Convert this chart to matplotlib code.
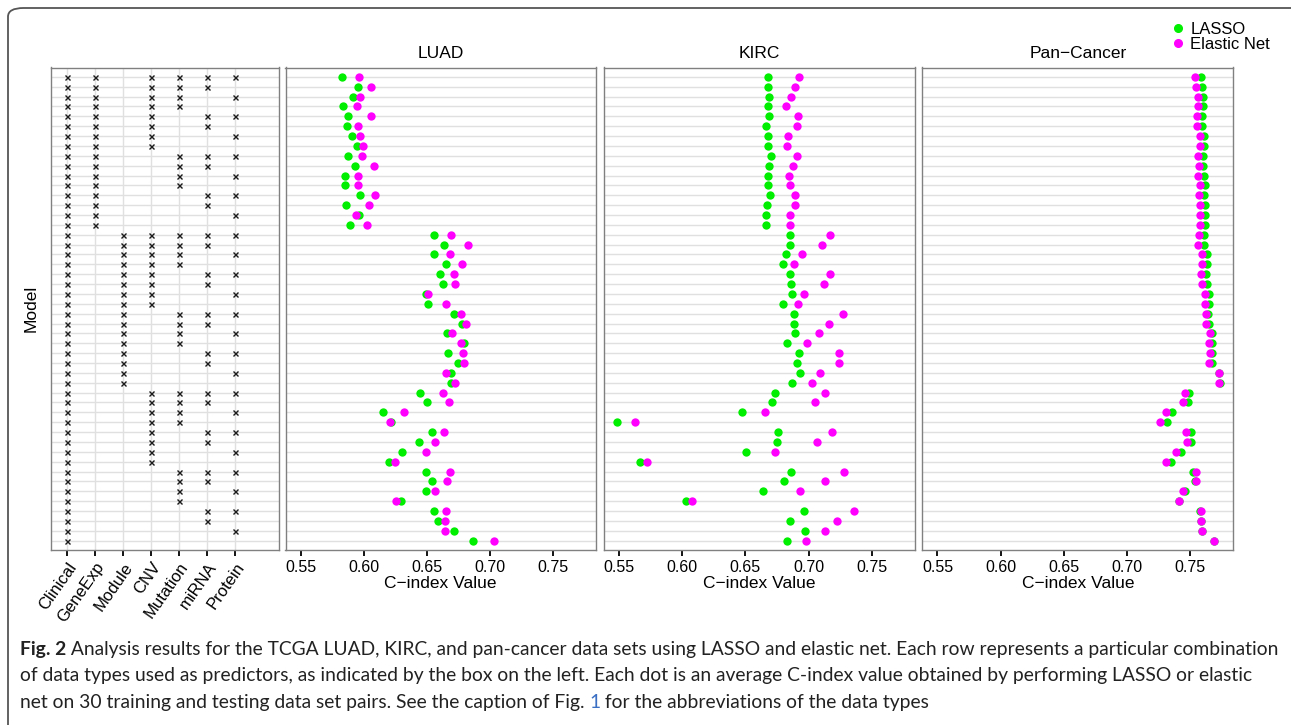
import matplotlib
matplotlib.use("Agg")
import matplotlib.pyplot as plt
import numpy as np
from matplotlib.lines import Line2D
from matplotlib.patches import FancyBboxPatch

# --- Data ---
DATA_TYPES = ["Clinical", "GeneExp", "Module", "CNV", "Mutation", "miRNA", "Protein"]

# one string per model row (top to bottom), 1 = data type used
MODEL_ROWS = [
    "1101111", "1101110", "1101101", "1101100", "1101011", "1101010", "1101001", "1101000",
    "1100111", "1100110", "1100101", "1100100", "1100011", "1100010", "1100001", "1100000",
    "1011111", "1011110", "1011101", "1011100", "1011011", "1011010", "1011001", "1011000",
    "1010111", "1010110", "1010101", "1010100", "1010011", "1010010", "1010001", "1010000",
    "1001111", "1001110", "1001101", "1001100", "1001011", "1001010", "1001001", "1001000",
    "1000111", "1000110", "1000101", "1000100", "1000011", "1000010", "1000001", "1000000",
]

LUAD_LASSO = [
    0.5825, 0.5956, 0.5912, 0.5832, 0.5877, 0.5864, 0.5904, 0.5949,
    0.5872, 0.5933, 0.5854, 0.5854, 0.5967, 0.5859, 0.5959, 0.5888,
    0.6558, 0.6637, 0.6558, 0.6650, 0.6603, 0.6629, 0.6490, 0.6508,
    0.6714, 0.6777, 0.6661, 0.6796, 0.6666, 0.6748, 0.6693, 0.6695,
    0.6442, 0.6500, 0.6154, 0.6212, 0.6540, 0.6434, 0.6305, 0.6197,
    0.6495, 0.6540, 0.6492, 0.6292, 0.6555, 0.6590, 0.6716, 0.6864,
]
LUAD_ENET = [
    0.5959, 0.6057, 0.5970, 0.5949, 0.6057, 0.5956, 0.5970, 0.5996,
    0.5985, 0.6080, 0.5954, 0.5954, 0.6088, 0.6044, 0.5938, 0.6028,
    0.6695, 0.6822, 0.6687, 0.6782, 0.6716, 0.6724, 0.6511, 0.6648,
    0.6769, 0.6811, 0.6698, 0.6767, 0.6788, 0.6798, 0.6648, 0.6724,
    0.6629, 0.6672, 0.6315, 0.6207, 0.6632, 0.6563, 0.6495, 0.6249,
    0.6682, 0.6661, 0.6566, 0.6257, 0.6648, 0.6645, 0.6640, 0.7030,
]

KIRC_LASSO = [
    0.6682, 0.6682, 0.6685, 0.6679, 0.6685, 0.6666, 0.6682, 0.6679,
    0.6700, 0.6690, 0.6682, 0.6682, 0.6693, 0.6674, 0.6666, 0.6666,
    0.6856, 0.6856, 0.6817, 0.6793, 0.6856, 0.6859, 0.6869, 0.6793,
    0.6885, 0.6883, 0.6888, 0.6832, 0.6920, 0.6906, 0.6930, 0.6867,
    0.6732, 0.6711, 0.6471, 0.5484, 0.6761, 0.6751, 0.6503, 0.5666,
    0.6859, 0.6806, 0.6640, 0.6033, 0.6959, 0.6851, 0.6970, 0.6827,
]
KIRC_ENET = [
    0.6920, 0.6891, 0.6861, 0.6822, 0.6917, 0.6909, 0.6840, 0.6832,
    0.6906, 0.6875, 0.6846, 0.6851, 0.6893, 0.6893, 0.6851, 0.6851,
    0.7168, 0.7104, 0.6946, 0.6885, 0.7168, 0.7123, 0.6962, 0.6914,
    0.7273, 0.7157, 0.7081, 0.6983, 0.7241, 0.7239, 0.7086, 0.7028,
    0.7125, 0.7046, 0.6658, 0.5624, 0.7181, 0.7067, 0.6732, 0.5719,
    0.7278, 0.7128, 0.6930, 0.6080, 0.7355, 0.7220, 0.7131, 0.6975,
]

PAN_LASSO = [
    0.7582, 0.7592, 0.7603, 0.7603, 0.7592, 0.7592, 0.7608, 0.7608,
    0.7603, 0.7603, 0.7606, 0.7616, 0.7611, 0.7616, 0.7616, 0.7613,
    0.7606, 0.7606, 0.7629, 0.7629, 0.7621, 0.7635, 0.7650, 0.7650,
    0.7642, 0.7645, 0.7672, 0.7669, 0.7672, 0.7669, 0.7730, 0.7732,
    0.7487, 0.7482, 0.7355, 0.7313, 0.7505, 0.7503, 0.7429, 0.7350,
    0.7521, 0.7540, 0.7455, 0.7408, 0.7574, 0.7582, 0.7590, 0.7684,
]
PAN_ENET = [
    0.7540, 0.7548, 0.7563, 0.7561, 0.7550, 0.7550, 0.7574, 0.7574,
    0.7561, 0.7566, 0.7563, 0.7579, 0.7571, 0.7577, 0.7579, 0.7579,
    0.7571, 0.7563, 0.7590, 0.7595, 0.7587, 0.7590, 0.7613, 0.7619,
    0.7621, 0.7624, 0.7653, 0.7650, 0.7656, 0.7650, 0.7724, 0.7724,
    0.7458, 0.7442, 0.7305, 0.7263, 0.7468, 0.7474, 0.7384, 0.7307,
    0.7542, 0.7542, 0.7442, 0.7408, 0.7587, 0.7582, 0.7592, 0.7684,
]

PANEL_TITLES = ["LUAD", "KIRC", "Pan\u2212Cancer"]
PANEL_DATA = [(LUAD_LASSO, LUAD_ENET), (KIRC_LASSO, KIRC_ENET), (PAN_LASSO, PAN_ENET)]
X_TICKS = [0.55, 0.60, 0.65, 0.70, 0.75]

CAPTION_LINES = [
    [("Fig. 2", "bold", "#222222"),
     (" Analysis results for the TCGA LUAD, KIRC, and pan-cancer data sets using LASSO and elastic net. "
      "Each row represents a particular combination", "normal", "#222222")],
    [("of data types used as predictors, as indicated by the box on the left. Each dot is an average "
      "C-index value obtained by performing LASSO or elastic", "normal", "#222222")],
    [("net on 30 training and testing data set pairs. See the caption of Fig. ", "normal", "#222222"),
     ("1", "normal", "#3a6fc4"),
     (" for the abbreviations of the data types", "normal", "#222222")],
]

# --- Style ---
GREEN = "#00ee00"
MAGENTA = "#ff00ff"
GRID = "#e0e0e0"
FRAME = "#808080"
W, H = 1291, 725
plt.rcParams["font.family"] = ["Liberation Sans", "DejaVu Sans"]

fig = plt.figure(figsize=(W / 100, H / 100), dpi=100)


def px_axes(left, top, right, bottom):
    return fig.add_axes([left / W, 1 - bottom / H, (right - left) / W, (bottom - top) / H])


def style_frame(ax):
    for sp in ax.spines.values():
        sp.set_color(FRAME)
        sp.set_linewidth(1.0)
    ax.set_axisbelow(True)


rows = np.arange(1, len(MODEL_ROWS) + 1)
n_rows = len(MODEL_ROWS)
TOP, BOTTOM = 67.5, 550

# left panel: which data types each model uses
ax0 = px_axes(51, TOP, 279, BOTTOM)
for r, code in zip(rows, MODEL_ROWS):
    cols = [i + 1 for i, c in enumerate(code) if c == "1"]
    ax0.plot(cols, [r] * len(cols), "x", color="#1a1a1a", ms=3.6, mew=1.0, zorder=3)
ax0.set_xlim(0.43, 8.57)
ax0.set_ylim(n_rows + 0.95, 0.05)
ax0.set_xticks(range(1, len(DATA_TYPES) + 1))
ax0.set_xticklabels(DATA_TYPES, rotation=55, ha="right", va="top",
                    rotation_mode="anchor", fontsize=12)
ax0.set_yticks(rows)
ax0.tick_params(axis="y", length=0, labelleft=False)
ax0.tick_params(axis="x", length=4, width=1.3, color="black", pad=3)
ax0.grid(True, color=GRID, linewidth=1.0)
ax0.set_ylabel("Model", fontsize=12.5, labelpad=9)
style_frame(ax0)

# dot panels
panel_x = [(285.5, 596), (603.7, 915), (922.3, 1233.3)]
for (x0, x1), title, (lasso, enet) in zip(panel_x, PANEL_TITLES, PANEL_DATA):
    ax = px_axes(x0, TOP, x1, BOTTOM)
    ax.scatter(lasso, rows, s=36, color=GREEN, linewidths=0, zorder=3)
    ax.scatter(enet, rows, s=36, color=MAGENTA, linewidths=0, zorder=4)
    ax.set_xlim(0.538, 0.784)
    ax.set_ylim(n_rows + 0.95, 0.05)
    ax.set_xticks(X_TICKS)
    ax.set_xticklabels([f"{t:.2f}" for t in X_TICKS], fontsize=11.5)
    ax.set_yticks(rows)
    ax.tick_params(axis="y", length=0, labelleft=False)
    ax.tick_params(axis="x", length=4, width=1.3, color="black", pad=3)
    ax.grid(True, axis="y", color=GRID, linewidth=1.0)
    ax.set_xlabel("C\u2212index Value", fontsize=12.5, labelpad=1)
    ax.set_title(title, fontsize=12.5, pad=7)
    style_frame(ax)

# legend
handles = [Line2D([], [], marker="o", ls="", color=GREEN, ms=5.5),
           Line2D([], [], marker="o", ls="", color=MAGENTA, ms=5.5)]
fig.legend(handles, ["LASSO", "Elastic Net"], loc="upper left",
           bbox_to_anchor=(1173 / W, 1 - 22 / H), frameon=False, fontsize=12,
           handlelength=0.6, handletextpad=0.45, labelspacing=0.0, borderpad=0,
           borderaxespad=0)

# outer frame of the figure box
fig.patches.append(FancyBboxPatch((8 / W, -0.1), 1.2, 1 - 8 / H + 0.1,
                                  boxstyle="round,pad=0,rounding_size=0.012",
                                  transform=fig.transFigure, fill=False,
                                  edgecolor="#555555", linewidth=1.3))

# caption, fitted to the width of the first line
renderer = fig.canvas.get_renderer()
CAP_FONT = ["Lato", "DejaVu Sans"]


def draw_line(pieces, y, size):
    x = 20 / W
    for txt, weight, color in pieces:
        t = fig.text(x, y, txt, fontsize=size, fontweight=weight, color=color,
                     family=CAP_FONT, va="baseline", ha="left")
        x += t.get_window_extent(renderer).width / W
    return x


probe = draw_line(CAPTION_LINES[0], 2.0, 12)
for t in list(fig.texts):
    t.remove()
cap_size = 12 * (1258 / W) / (probe - 20 / W)
for i, line in enumerate(CAPTION_LINES):
    draw_line(line, 1 - (655 + 26.5 * i) / H, cap_size)

fig.savefig("out.png", dpi=100)
